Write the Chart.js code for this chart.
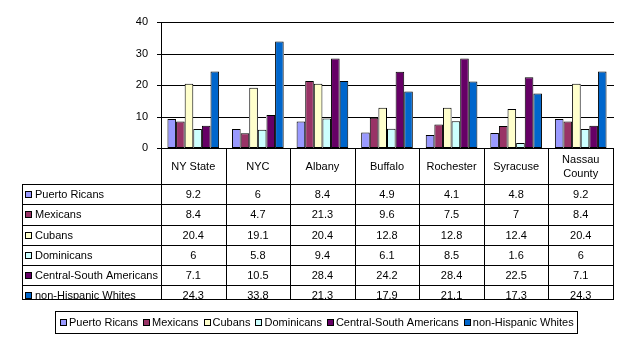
<!DOCTYPE html>
<html>
<head>
<meta charset="utf-8">
<script src="https://cdn.jsdelivr.net/npm/chart.js@4/dist/chart.umd.min.js"></script>
<style>
  html, body { margin: 0; padding: 0; background: #fff; }
  #wrap { position: relative; width: 622px; height: 351px; }
  #wrap canvas { position: absolute; left: 0; top: 0; }
  #grid { position: absolute; left: 0; top: 0; width: 622px; height: 351px; pointer-events: none; }
  #grid div { position: absolute; height: 1px; background: #000; }
</style>
</head>
<body>
<div id="wrap">
  <canvas id="chart" width="622" height="351"></canvas>
  <div id="grid"></div>
</div>
<script>
// Hispanic groups share by area (%)
const categories = ['NY State', 'NYC', 'Albany', 'Buffalo', 'Rochester', 'Syracuse', ['Nassau', 'County']];
const seriesNames = ['Puerto Ricans', 'Mexicans', 'Cubans', 'Dominicans', 'Central-South Americans', 'non-Hispanic Whites'];
const puertoRicans = [9.2, 6, 8.4, 4.9, 4.1, 4.8, 9.2];
const mexicans = [8.4, 4.7, 21.3, 9.6, 7.5, 7, 8.4];
const cubans = [20.4, 19.1, 20.4, 12.8, 12.8, 12.4, 20.4];
const dominicans = [6, 5.8, 9.4, 6.1, 8.5, 1.6, 6];
const centralSouth = [7.1, 10.5, 28.4, 24.2, 28.4, 22.5, 7.1];
const nonHispWhites = [24.3, 33.8, 21.3, 17.9, 21.1, 17.3, 24.3];
const yMax = 40;
const yStep = 10;

const seriesValues = [puertoRicans, mexicans, cubans, dominicans, centralSouth, nonHispWhites];
const colors = ['#9999FF', '#993366', '#FFFFCC', '#CCFFFF', '#660066', '#0066CC'];
const FAMILY = 'Arial, "Liberation Sans", sans-serif';
const FONT = '11px ' + FAMILY;

const TABLE_LEFT = 22;
const ROW_TOP = 184;
const ROW_H = 20.25;
const TABLE_BOTTOM = 300;

const crisp = v => Math.round(v) + 0.5;

// gridline pieces: each value line, with the spans the bars cover cut out
function gridSegments(chart) {
    const { left, right } = chart.chartArea;
    const ys = chart.scales.y;
    const bars = [];
    chart.data.datasets.forEach((_, i) => {
        chart.getDatasetMeta(i).data.forEach(el => {
            bars.push({ x: el.x, y: el.y, base: el.base, width: el.width });
        });
    });
    const segs = [];
    for (let v = 0; v <= yMax; v += yStep) {
        const row = Math.round(ys.getPixelForValue(v));
        const y = row + 0.5;
        const cuts = bars
            .filter(b => Math.min(b.y, b.base) < y && Math.max(b.y, b.base) > y)
            .map(b => [Math.round(b.x - b.width / 2), Math.round(b.x + b.width / 2)])
            .sort((a, b) => a[0] - b[0]);
        let x0 = Math.round(left) - 4;
        cuts.forEach(([a, b]) => {
            if (a > x0) segs.push({ row, x0, x1: a });
            x0 = Math.max(x0, b);
        });
        const xEnd = Math.round(right) + 1;
        if (xEnd > x0) segs.push({ row, x0, x1: xEnd });
    }
    return segs;
}

const gridPlugin = {
    id: 'hGrid',
    afterDatasetsDraw(chart) {
        const ctx = chart.ctx;
        ctx.save();
        ctx.strokeStyle = '#000';
        ctx.lineWidth = 1;
        ctx.beginPath();
        gridSegments(chart).forEach(s => {
            ctx.moveTo(s.x0, s.row + 0.5);
            ctx.lineTo(s.x1, s.row + 0.5);
        });
        ctx.stroke();
        ctx.restore();
    },
};

// data table under the plot, columns follow the x scale
const tablePlugin = {
    id: 'dataTable',
    afterDraw(chart) {
        const ctx = chart.ctx;
        const { left, right, bottom } = chart.chartArea;
        const xs = chart.scales.x;
        const colW = (right - left) / categories.length;
        ctx.save();
        ctx.strokeStyle = '#000';
        ctx.lineWidth = 1;
        ctx.beginPath();
        for (let i = 0; i <= categories.length; i++) {
            const x = crisp(left + i * colW);
            ctx.moveTo(x, bottom);
            ctx.lineTo(x, TABLE_BOTTOM);
        }
        ctx.moveTo(crisp(TABLE_LEFT), ROW_TOP);
        ctx.lineTo(crisp(TABLE_LEFT), TABLE_BOTTOM);
        for (let r = 0; r < seriesNames.length; r++) {
            const y = crisp(ROW_TOP + r * ROW_H);
            ctx.moveTo(TABLE_LEFT, y);
            ctx.lineTo(crisp(right) + 0.5, y);
        }
        ctx.moveTo(TABLE_LEFT, crisp(TABLE_BOTTOM - 1));
        ctx.lineTo(crisp(right) + 0.5, crisp(TABLE_BOTTOM - 1));
        ctx.stroke();

        ctx.font = FONT;
        ctx.fillStyle = '#000';
        ctx.textAlign = 'center';
        ctx.textBaseline = 'middle';
        // header row
        categories.forEach((c, i) => {
            const cx = xs.getPixelForValue(i);
            const mid = (bottom + ROW_TOP) / 2 + 1;
            if (Array.isArray(c)) {
                ctx.fillText(c[0], cx, mid - 7);
                ctx.fillText(c[1], cx, mid + 7);
            } else {
                ctx.fillText(c, cx, mid);
            }
        });

        // body rows, clipped at the table bottom
        ctx.beginPath();
        ctx.rect(0, ROW_TOP, chart.width, TABLE_BOTTOM - 1 - ROW_TOP);
        ctx.clip();
        seriesNames.forEach((name, r) => {
            const cy = ROW_TOP + r * ROW_H + ROW_H / 2 + 1;
            seriesValues[r].forEach((v, i) => {
                ctx.textAlign = 'center';
                ctx.fillText(String(v), xs.getPixelForValue(i), cy);
            });
            ctx.fillStyle = colors[r];
            ctx.fillRect(TABLE_LEFT + 3, Math.round(cy) - 4, 7, 7);
            ctx.strokeRect(TABLE_LEFT + 3.5, Math.round(cy) - 3.5, 6, 6);
            ctx.fillStyle = '#000';
            ctx.textAlign = 'left';
            ctx.fillText(name, TABLE_LEFT + 13, cy);
        });
        ctx.restore();
    },
};

// boxed legend below the table
const legendPlugin = {
    id: 'boxLegend',
    afterDraw(chart) {
        const ctx = chart.ctx;
        ctx.save();
        ctx.font = FONT;
        const sq = 7, gapSq = 2, gapItem = 5, pad = 4;
        const widths = seriesNames.map(n => sq + gapSq + ctx.measureText(n).width);
        const content = widths.reduce((s, w) => s + w, 0) + gapItem * (widths.length - 1);
        const boxW = Math.round(content + pad * 2);
        const boxR = 577;
        const boxL = boxR - boxW;
        const boxT = 311, boxH = 22;
        ctx.strokeStyle = '#000';
        ctx.lineWidth = 1;
        ctx.strokeRect(boxL + 0.5, boxT + 0.5, boxW, boxH);
        let x = boxL + pad + 1;
        const cy = boxT + boxH / 2 + 1;
        ctx.textBaseline = 'middle';
        ctx.textAlign = 'left';
        seriesNames.forEach((n, i) => {
            ctx.fillStyle = colors[i];
            ctx.fillRect(Math.round(x), Math.round(cy) - 4, sq, sq);
            ctx.strokeRect(Math.round(x) + 0.5, Math.round(cy) - 3.5, sq - 1, sq - 1);
            ctx.fillStyle = '#000';
            ctx.fillText(n, x + sq + gapSq, cy);
            x += widths[i] + gapItem;
        });
        ctx.restore();
    },
};

const chart = new Chart(document.getElementById('chart'), {
    type: 'bar',
    data: {
        labels: categories,
        datasets: seriesNames.map((name, i) => ({
            label: name,
            data: seriesValues[i],
            backgroundColor: colors[i],
            borderColor: '#000',
            borderWidth: 1,
            borderSkipped: false,
            categoryPercentage: 0.8,
            barPercentage: 1.0,
        })),
    },
    plugins: [gridPlugin, tablePlugin, legendPlugin],
    options: {
        responsive: false,
        devicePixelRatio: 1,
        animation: false,
        layout: { padding: { top: 22, right: 9, bottom: 203, left: 0 } },
        plugins: { legend: { display: false }, tooltip: { enabled: false } },
        scales: {
            x: { display: false },
            y: {
                min: 0,
                max: yMax,
                afterFit: s => { s.width = 161; },
                ticks: { stepSize: yStep, color: '#000', font: { family: FAMILY, size: 11 }, padding: 5 },
                grid: { display: false },
                border: { color: '#000', width: 1 },
            },
        },
    },
});

// same gridline pieces as 1px strips over the canvas, in case the canvas ones get lost
const gridLayer = document.getElementById('grid');
gridSegments(chart).forEach(s => {
    const d = document.createElement('div');
    d.style.left = s.x0 + 'px';
    d.style.top = s.row + 'px';
    d.style.width = (s.x1 - s.x0) + 'px';
    gridLayer.appendChild(d);
});
</script>
</body>
</html>
